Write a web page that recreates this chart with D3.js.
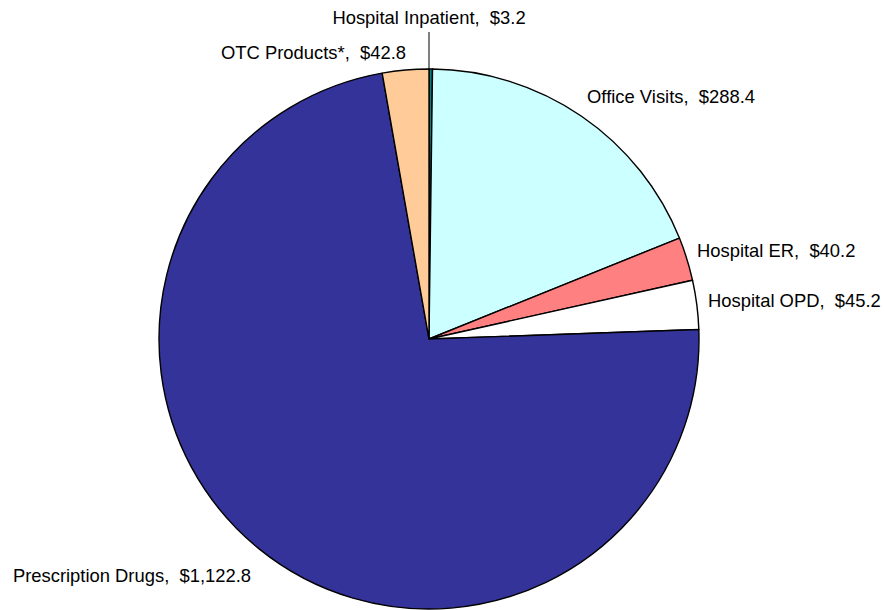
<!DOCTYPE html>
<html>
<head>
<meta charset="utf-8">
<script src="https://cdn.jsdelivr.net/npm/d3@7"></script>
<style>
  body { margin: 0; background: #fff; }
  svg text { font-family: "Liberation Sans", Arial, sans-serif; font-size: 18.4px; fill: #000; white-space: pre; }
</style>
</head>
<body>
<svg width="884" height="610"></svg>
<script>
// slices, clockwise from 12 o'clock
var categories = ["Hospital Inpatient", "Office Visits", "Hospital ER", "Hospital OPD", "Prescription Drugs", "OTC Products*"];
var values = [3.2, 288.4, 40.2, 45.2, 1122.8, 42.8];
var colors = ["#008080", "#CCFFFF", "#FF8080", "#FFFFFF", "#333399", "#FFCC99"];

// label nudges (px) from the default spot just outside the rim
var nudge = {
  "Office Visits": [1, -12.6],
  "Hospital ER": [2.5, -5.5],
  "Hospital OPD": [3.3, -2.7],
  "Prescription Drugs": [-3, 21],
  "OTC Products*": [1.2, -9]
};

var cx = 429, cy = 339, R = 270;
var svg = d3.select("svg");
var g = svg.append("g").attr("transform", "translate(" + cx + "," + cy + ")");

var data = categories.map(function(c, i){ return {name: c, value: values[i], color: colors[i]}; });
var pie = d3.pie().sort(null).value(function(d){ return d.value; });
var arc = d3.arc().innerRadius(0).outerRadius(R);
var arcs = pie(data);

g.selectAll("path.slice").data(arcs).enter().append("path")
  .attr("class", "slice")
  .attr("d", arc)
  .attr("fill", function(d){ return d.data.color; })
  .attr("stroke", "#000")
  .attr("stroke-width", 1.4)
  .attr("stroke-linejoin", "round");

var fmt = d3.format(",.1f");
arcs.forEach(function(d){
  var a = (d.startAngle + d.endAngle) / 2;
  var txt = d.data.name + ",  $" + fmt(d.data.value);
  if (d.data.name == "Hospital Inpatient") {
    // tiny slice: leader line straight up
    var lx = 0;
    g.append("line")
      .attr("x1", lx).attr("y1", -R)
      .attr("x2", lx).attr("y2", -R - 37)
      .attr("stroke", "#000").attr("stroke-width", 1);
    g.append("text").attr("x", lx).attr("y", -R - 45)
      .attr("text-anchor", "middle").text(txt);
    return;
  }
  var r = R + 8;
  var px = Math.sin(a) * r, py = -Math.cos(a) * r;
  var n = nudge[d.data.name] || [0, 0];
  g.append("text")
    .attr("x", px + n[0])
    .attr("y", py + 6 + n[1])
    .attr("text-anchor", Math.sin(a) >= 0 ? "start" : "end")
    .text(txt);
});
</script>
</body>
</html>
